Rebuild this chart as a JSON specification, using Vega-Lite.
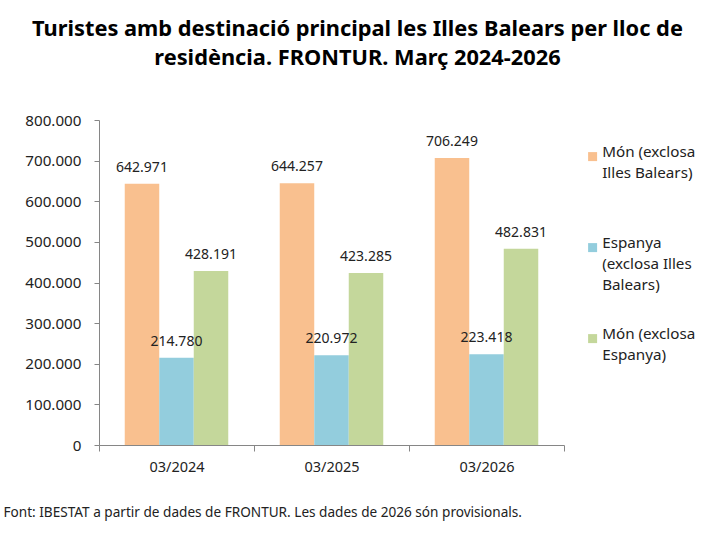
{
  "$schema": "https://vega.github.io/schema/vega-lite/v6.json",
  "autosize": {"type": "none"},
  "width": 465,
  "height": 325,
  "padding": {"left": 99, "top": 120, "right": 152, "bottom": 100},
  "background": "white",
  "config": {
    "view": {"stroke": null},
    "font": "Noto Sans",
    "style": {"guide-label": {"lineHeight": 21}},
    "locale": {"number": {"decimal": ",", "thousands": ".", "grouping": [3], "currency": ["", " €"]}}
  },
  "title": {
    "text": ["Turistes amb destinació principal les Illes Balears per lloc de", "residència. FRONTUR. Març 2024-2026"],
    "font": "Noto Sans",
    "fontSize": 21.8,
    "fontWeight": "bold",
    "color": "#000000",
    "anchor": "middle",
    "dx": 26,
    "lineHeight": 29,
    "offset": 43
  },
  "data": {
    "values": [
      {"periode": "03/2024", "serie": "Món (exclosa Illes Balears)", "ordre": 1, "valor": 642971},
      {"periode": "03/2024", "serie": "Espanya (exclosa Illes Balears)", "ordre": 2, "valor": 214780},
      {"periode": "03/2024", "serie": "Món (exclosa Espanya)", "ordre": 3, "valor": 428191},
      {"periode": "03/2025", "serie": "Món (exclosa Illes Balears)", "ordre": 1, "valor": 644257},
      {"periode": "03/2025", "serie": "Espanya (exclosa Illes Balears)", "ordre": 2, "valor": 220972},
      {"periode": "03/2025", "serie": "Món (exclosa Espanya)", "ordre": 3, "valor": 423285},
      {"periode": "03/2026", "serie": "Món (exclosa Illes Balears)", "ordre": 1, "valor": 706249},
      {"periode": "03/2026", "serie": "Espanya (exclosa Illes Balears)", "ordre": 2, "valor": 223418},
      {"periode": "03/2026", "serie": "Món (exclosa Espanya)", "ordre": 3, "valor": 482831}
    ]
  },
  "encoding": {
    "x": {
      "field": "periode",
      "type": "nominal",
      "scale": {"paddingInner": 0, "paddingOuter": 0},
      "axis": {
        "title": "Font: IBESTAT a partir de dades de FRONTUR. Les dades de 2026 són provisionals.",
        "titleFont": "Noto Sans",
        "titleFontSize": 13.6,
        "titleFontWeight": "normal",
        "titleColor": "#222222",
        "titleAnchor": "start",
        "titleAlign": "left",
        "titleBaseline": "middle",
        "titleX": -96,
        "titleY": 67,
        "labelAngle": 0,
        "labelFontSize": 14.5,
        "labelColor": "#222222",
        "labelPadding": 9,
        "tickBand": "extent",
        "tickSize": 6,
        "tickColor": "#868686",
        "domainColor": "#868686",
        "grid": false
      }
    },
    "xOffset": {
      "field": "ordre",
      "type": "ordinal",
      "scale": {"paddingInner": 0, "paddingOuter": 0.746}
    },
    "y": {
      "field": "valor",
      "type": "quantitative",
      "scale": {"domain": [0, 800000], "nice": false},
      "axis": {
        "title": null,
        "values": [0, 100000, 200000, 300000, 400000, 500000, 600000, 700000, 800000],
        "format": ",d",
        "labelFontSize": 15.2,
        "labelColor": "#222222",
        "labelPadding": 13,
        "tickSize": 5,
        "tickColor": "#868686",
        "domainColor": "#868686",
        "grid": false
      }
    }
  },
  "layer": [
    {
      "mark": {"type": "bar"},
      "encoding": {
        "color": {
          "field": "serie",
          "type": "nominal",
          "sort": ["Món (exclosa Illes Balears)", "Espanya (exclosa Illes Balears)", "Món (exclosa Espanya)"],
          "scale": {
            "domain": ["Món (exclosa Illes Balears)", "Espanya (exclosa Illes Balears)", "Món (exclosa Espanya)"],
            "range": ["#F9C08F", "#93CDDD", "#C4D79B"]
          },
          "legend": {
            "title": null,
            "orient": "none",
            "legendX": 486,
            "legendY": 29,
            "padding": 0,
            "direction": "vertical",
            "symbolType": "square",
            "symbolSize": 81,
            "symbolStrokeWidth": 0,
            "labelFontSize": 15.2,
            "labelColor": "#222222",
            "labelLimit": 0,
            "labelOffset": 2,
            "labelBaseline": "alphabetic",
            "labelExpr": "datum.label == 'Món (exclosa Illes Balears)' ? ['Món (exclosa', 'Illes Balears)', ' '] : datum.label == 'Espanya (exclosa Illes Balears)' ? ['Espanya', '(exclosa Illes', 'Balears)'] : ['Món (exclosa', 'Espanya)', ' ']",
            "gridAlign": "all",
            "rowPadding": 33
          }
        }
      }
    },
    {
      "mark": {"type": "text", "baseline": "alphabetic", "dy": -12, "fontSize": 14, "color": "#222222"},
      "encoding": {
        "text": {"field": "valor", "type": "quantitative", "format": ",d"}
      }
    }
  ]
}
